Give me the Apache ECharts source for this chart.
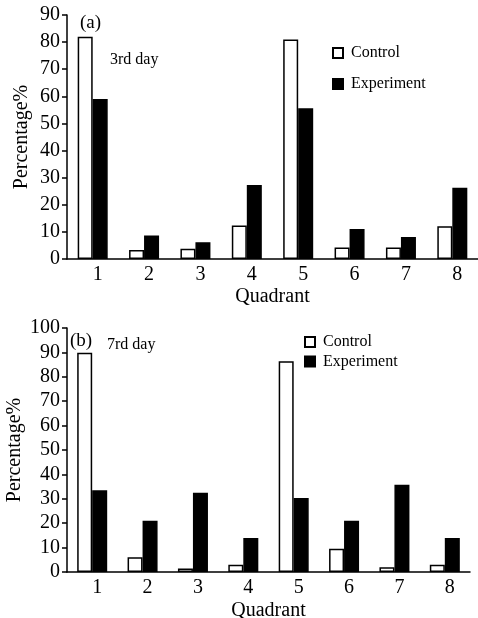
<!DOCTYPE html>
<html>
<head>
<meta charset="utf-8">
<script src="https://cdn.jsdelivr.net/npm/echarts@6/dist/echarts.min.js"></script>
<style>
  html, body { margin: 0; padding: 0; background: #fff; }
  #main { width: 478px; height: 618px; }
</style>
</head>
<body>
<div id="main"></div>
<script>
// quadrants on the x axis
const quadrants = ['1', '2', '3', '4', '5', '6', '7', '8'];
// (a) 3rd day
const controlDay3 = [82, 3.3, 3.8, 12.4, 81, 4.2, 4.2, 12.1];
const experimentDay3 = [59, 8.7, 6.2, 27.3, 55.6, 11.1, 8.1, 26.3];
// (b) 7rd day
const controlDay7 = [89.9, 6.0, 1.4, 3.0, 86.4, 9.5, 1.9, 3.0];
const experimentDay7 = [33.5, 21.0, 32.5, 13.9, 30.3, 21.0, 35.8, 13.9];

const font = 'Liberation Serif';
const myChart = echarts.init(document.getElementById('main'));

function xAxis(gridIndex) {
  return {
    type: 'category',
    gridIndex: gridIndex,
    data: quadrants,
    name: 'Quadrant',
    nameLocation: 'middle',
    nameGap: gridIndex === 0 ? 28 : 29,
    nameTextStyle: { fontFamily: font, fontSize: 20, color: '#000' },
    axisLine: { lineStyle: { color: '#000', width: 1.5 } },
    axisTick: { show: false },
    axisLabel: { fontFamily: font, fontSize: 20, color: '#000', margin: 6, padding: [0, 0, 0, 10] }
  };
}

function yAxis(gridIndex, max) {
  return {
    type: 'value',
    gridIndex: gridIndex,
    min: 0,
    max: max,
    interval: 10,
    name: 'Percentage%',
    nameLocation: 'middle',
    nameMoveOverlap: false,
    nameGap: gridIndex === 0 ? 35 : 42,
    nameTextStyle: { fontFamily: font, fontSize: 20, color: '#000' },
    splitLine: { show: false },
    axisLine: { show: true, lineStyle: { color: '#000', width: 1.5 } },
    axisTick: { show: true, length: 5, lineStyle: { color: '#000', width: 1.5 } },
    axisLabel: { fontFamily: font, fontSize: 20, color: '#000', margin: 7 }
  };
}

function bars(name, data, idx, fill) {
  return {
    name: name,
    type: 'bar',
    xAxisIndex: idx,
    yAxisIndex: idx,
    data: data,
    barWidth: 15,
    barGap: '0%',
    itemStyle: { color: fill, borderColor: '#000', borderWidth: 1.5 }
  };
}

function legend(left, top, gap) {
  return {
    orient: 'vertical',
    left: left,
    top: top,
    padding: 0,
    itemGap: gap,
    itemWidth: 10,
    itemHeight: 10,
    icon: 'rect',
    selectedMode: false,
    textStyle: { fontFamily: font, fontSize: 16, color: '#000', lineHeight: 16, padding: [0, 0, 0, 3] },
    data: ['Control', 'Experiment']
  };
}

function label(text, x, y, size) {
  return {
    type: 'text',
    left: x,
    top: y,
    style: { text: text, fontFamily: font, fontSize: size, fill: '#000' }
  };
}

const option = {
  animation: false,
  grid: [
    { left: 67, right: 0, top: 15, bottom: 359, outerBoundsMode: 'none' },
    { left: 67, right: 8, top: 328, bottom: 46, outerBoundsMode: 'none' }
  ],
  xAxis: [xAxis(0), xAxis(1)],
  yAxis: [yAxis(0, 90), yAxis(1, 100)],
  legend: [legend(332, 45, 15), legend(304, 334, 3.5)],
  series: [
    bars('Control', controlDay3, 0, '#fff'),
    bars('Experiment', experimentDay3, 0, '#000'),
    bars('Control', controlDay7, 1, '#fff'),
    bars('Experiment', experimentDay7, 1, '#000')
  ],
  graphic: [
    label('(a)', 80, 14, 19),
    label('3rd day', 110, 52, 16),
    label('(b)', 70, 332, 19),
    label('7rd day', 107, 337, 16)
  ]
};

option && myChart.setOption(option);
</script>
</body>
</html>
